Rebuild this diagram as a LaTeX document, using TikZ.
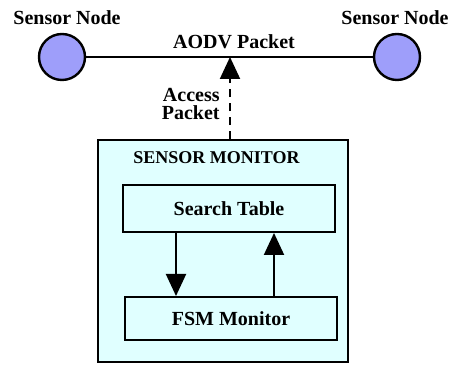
\documentclass[tikz,border=0pt]{standalone}
\usepackage{fontspec}
\setmainfont{Liberation Serif}
\usetikzlibrary{arrows.meta,positioning}
\definecolor{nodeblue}{HTML}{9E9EFA}
\definecolor{moncyan}{HTML}{E0FFFF}
\tikzset{%
	sensor/.style  = {draw, circle, line width=1.2pt, fill=nodeblue, minimum size=23pt, inner sep=0pt},
	lbl/.style     = {font=\bfseries, inner sep=0pt},
	monbox/.style  = {draw, rectangle, line width=0.9pt, fill=moncyan, minimum width=125pt, minimum height=111pt},
	process/.style = {draw, rectangle, line width=1pt, fill=moncyan, minimum width=106pt, text centered, font=\bfseries},
	arrow/.style   = {line width=1pt, -{Triangle[length=11pt,width=10pt]}},
	link/.style    = {line width=1pt},
}
\begin{document}
\begin{tikzpicture}[x=0.5pt,y=-0.5pt]
			\useasboundingbox (0,0) rectangle (450,367);
			\node[sensor] (s1) at (62,57) {};
			\node[sensor] (s2) at (397,57) {};
			\draw[link] (s1) -- (s2);
			\node[lbl] (n1) at (67,18) {Sensor Node};
			\node[lbl] (n2) at (395,18) {Sensor Node};
			\node[lbl] (aodv) at (234,42) {AODV Packet};
			\coordinate (tap) at (230,57);
			\node[monbox] (mon) at (223,251) {};
			\node[lbl, anchor=west, font=\bfseries\small] (mlabel) at (133,158) {SENSOR MONITOR};
			\node[process, minimum height=23.5pt] (table) at (229,208.5) {Search Table};
			\node[process, minimum height=21.5pt] (fsm) at (231,318.5) {FSM Monitor};
			\draw[arrow, dash pattern=on 4pt off 3pt] (mon.north -| tap) -- (tap);
			\node[lbl, align=right, anchor=east] (access) at (220,104) {Access\\[-3pt]Packet};
			\draw[arrow] (table.south -| 176,0) -- (fsm.north -| 176,0);
			\draw[arrow] (fsm.north -| 274,0) -- (table.south -| 274,0);
			\end{tikzpicture}
\end{document}
